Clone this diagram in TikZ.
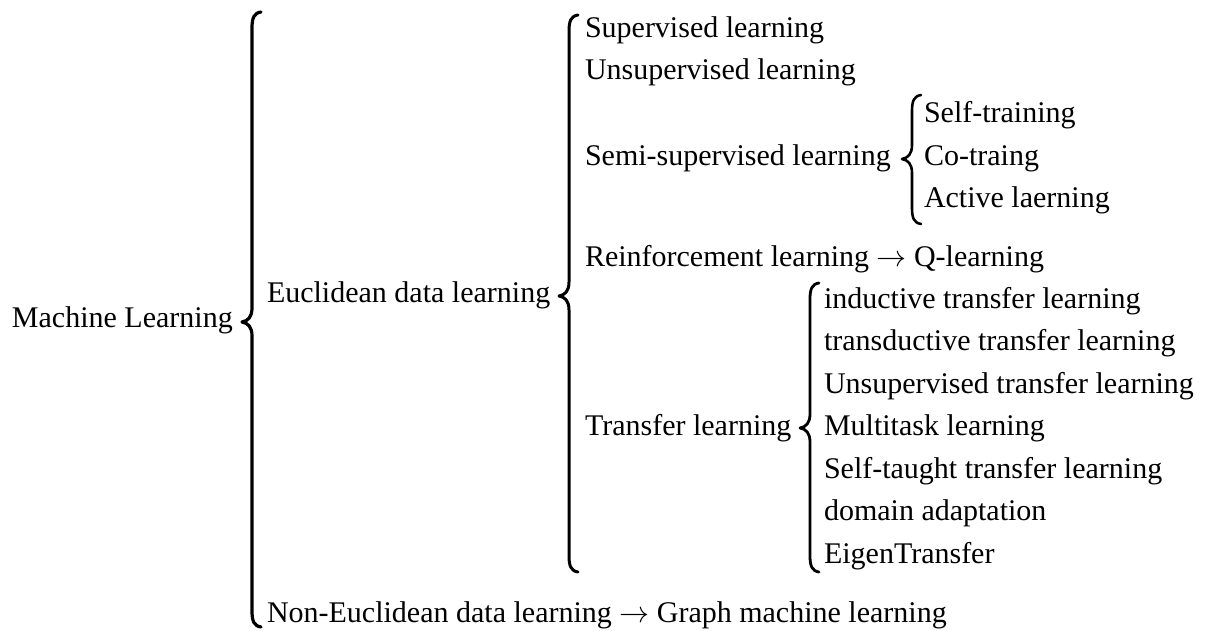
\RequirePackage{fix-cm}
\documentclass[tikz,border=0pt]{standalone}
\usepackage{fontspec}
\setmainfont{Liberation Serif}
\begin{document}
\begin{tikzpicture}[x=1pt,y=-1pt,
  lbl/.style={anchor=base west,inner sep=0pt,outer sep=0pt,font=\fontsize{30}{36}\selectfont},
  bracestroke/.style={line width=#1,line cap=round,line join=round,black},
  bracestroke/.default=2.8pt]
\useasboundingbox (0,0) rectangle (1210,631);
\newcommand{\mybrace}[5]{%
  \draw[bracestroke=#5] ({#1+9},{#2}) .. controls ({#1+2},{#2+1}) and ({#1},{#2+6}) .. ({#1},{#2+16})
    -- ({#1},{#4-14}) .. controls ({#1},{#4-5}) and ({#1-4},{#4-1}) .. ({#1-10},{#4})
    .. controls ({#1-4},{#4+1}) and ({#1},{#4+5}) .. ({#1},{#4+14})
    -- ({#1},{#3-16}) .. controls ({#1},{#3-6}) and ({#1+2},{#3-1}) .. ({#1+9},{#3});}
% level 0
\node[lbl] (ml) at (12,327) {Machine Learning};
\mybrace{252}{12}{627}{322}{3.2pt}
% level 1
\node[lbl] (euc) at (267,302) {Euclidean data learning};
\node[lbl] (noneuc) at (267,622) {Non-Euclidean data learning $\rightarrow$ Graph machine learning};
\mybrace{569}{15}{572}{296}{3pt}
% level 2
\node[lbl] (sup) at (585,38) {Supervised learning};
\node[lbl] (unsup) at (585,80) {Unsupervised learning};
\node[lbl] (semi) at (585,166) {Semi-supervised learning};
\node[lbl] (rein) at (585,266) {Reinforcement learning $\rightarrow$ Q-learning};
\node[lbl] (tl) at (585,435) {Transfer learning};
% semi-supervised children
\mybrace{912}{95}{224}{159}{2.6pt}
\node[lbl] (self) at (924,123) {Self-training};
\node[lbl] (co) at (924,166) {Co-traing};
\node[lbl] (act) at (924,208) {Active laerning};
% transfer children
\mybrace{810}{283}{572}{428}{2.8pt}
\node[lbl] (ind) at (824,308) {inductive transfer learning};
\node[lbl] (trd) at (824,350) {transductive transfer learning};
\node[lbl] (utl) at (824,393) {Unsupervised transfer learning};
\node[lbl] (mtl) at (824,435) {Multitask learning};
\node[lbl] (stl) at (824,478) {Self-taught transfer learning};
\node[lbl] (dom) at (824,520) {domain adaptation};
\node[lbl] (eig) at (824,563) {EigenTransfer};
\end{tikzpicture}
\end{document}
